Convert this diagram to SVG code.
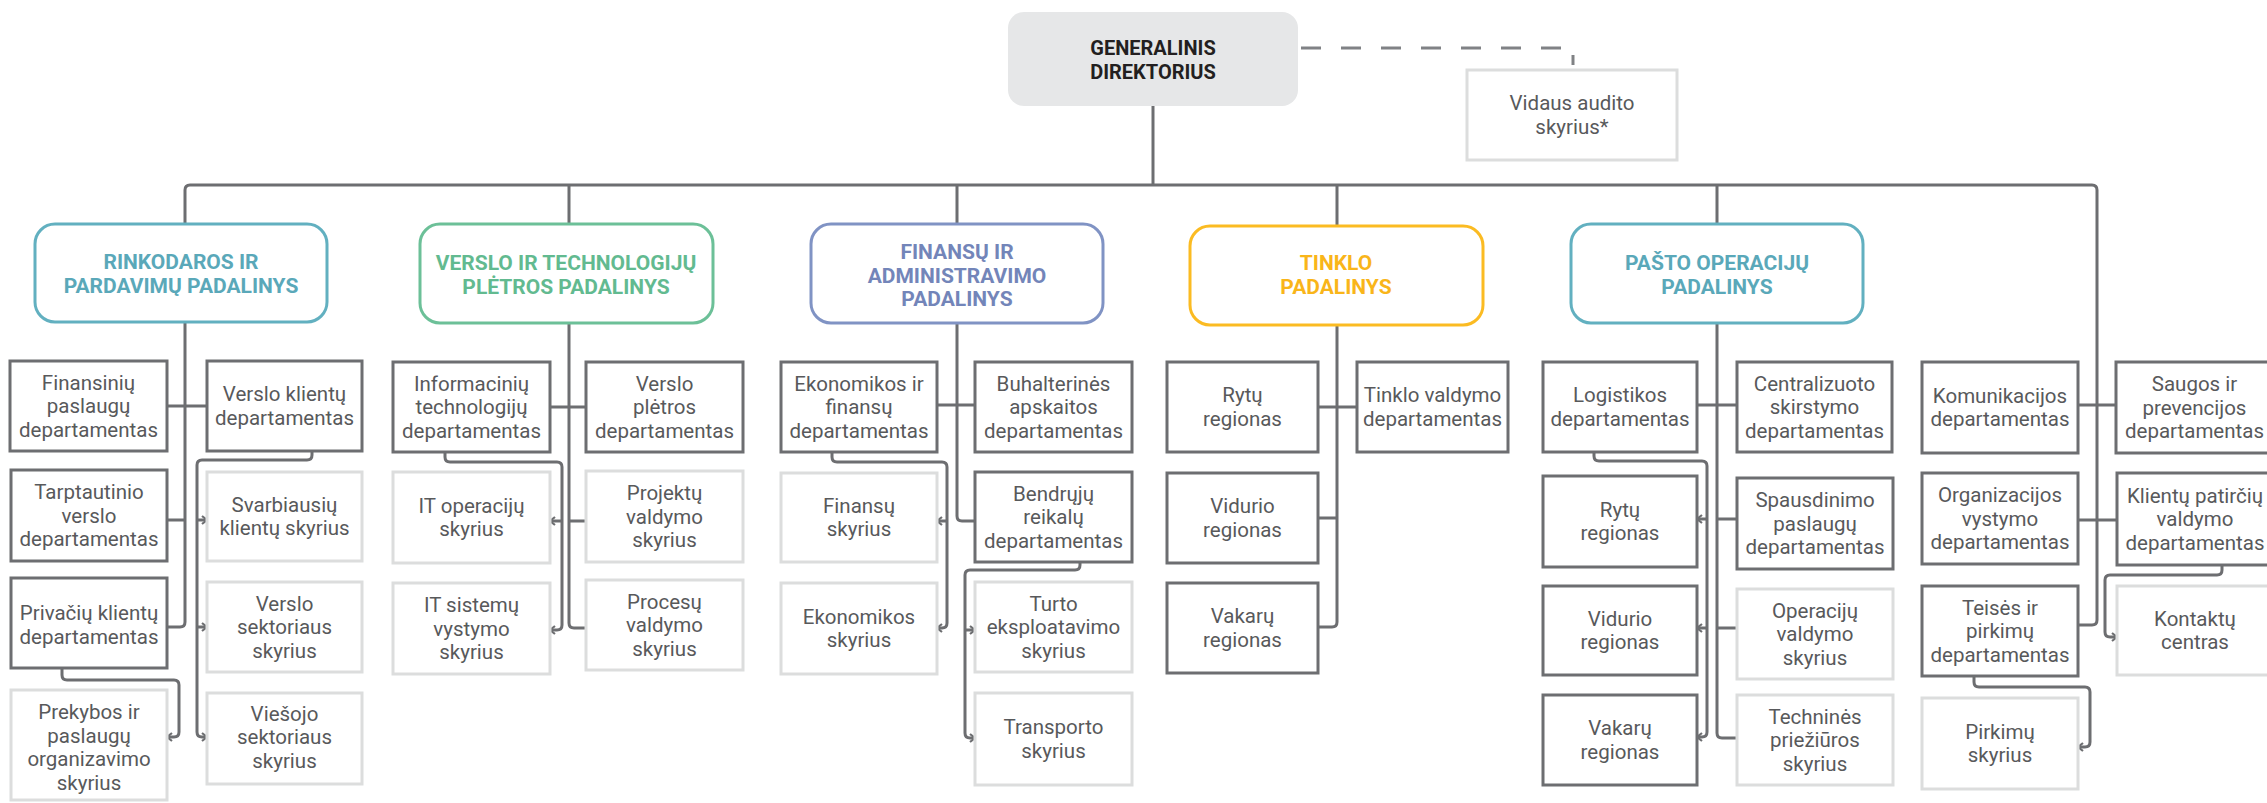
<svg xmlns="http://www.w3.org/2000/svg" width="2267" height="803" viewBox="0 0 2267 803">
<style>
.bg{fill:#ffffff}
.dk{fill:#fff;stroke:#6d6e71;stroke-width:3}
.lt{fill:#fff;stroke:#dcdddd;stroke-width:3}
.c{fill:none;stroke:#6d6e71;stroke-width:3;stroke-linejoin:round}
.t{font-family:Roboto,"Liberation Sans",sans-serif;font-size:20.5px;font-weight:400;fill:#58595b;text-anchor:middle}
.h{font-family:Roboto,"Liberation Sans",sans-serif;font-size:21px;font-weight:700;text-anchor:middle}
.hb{fill:#fff;stroke-width:3}
</style>
<defs>
<marker id="ar" markerUnits="userSpaceOnUse" markerWidth="10" markerHeight="12" refX="6" refY="5" orient="auto">
<path d="M1,1 L6,5 L1,9" fill="none" stroke="#6d6e71" stroke-width="2.2"/>
</marker>
</defs>
<rect class="bg" x="0" y="0" width="2267" height="803"/>

<g id="connectors">
<path class="c" d="M1153,106 V185"/>
<path class="c" d="M185,224 V190 Q185,185 190,185 H2092 Q2097,185 2097,190 V620 Q2097,625 2092,625 H2078"/>
<path class="c" d="M569,185 V224 M957,185 V224 M1337,185 V226 M1717,185 V224"/>
<path d="M1301,48 H1563" fill="none" stroke="#808285" stroke-width="3" stroke-dasharray="20 20"/>
<path d="M1573,55 V65" fill="none" stroke="#808285" stroke-width="3"/>
<!-- col1 -->
<path class="c" d="M185,322 V622 Q185,627 180,627 H167 M167,406 H207 M167,520 H185"/>
<path class="c" d="M312,451 V455 Q312,460 307,460 H202 Q197,460 197,465 V732 Q197,737 202,737 H207" marker-end="url(#ar)"/>
<path class="c" d="M197,520 H207" marker-end="url(#ar)"/>
<path class="c" d="M197,627 H207" marker-end="url(#ar)"/>
<path class="c" d="M62,668 V675 Q62,680 67,680 H174 Q179,680 179,685 V732 Q179,737 174,737 H167" marker-end="url(#ar)"/>
<!-- col2 -->
<path class="c" d="M569,323 V623 Q569,628 574,628 H586 M550,407 H586 M569,521 H586"/>
<path class="c" d="M445,452 V457 Q445,462 450,462 H557 Q562,462 562,467 V625 Q562,630 557,630 H550" marker-end="url(#ar)"/>
<path class="c" d="M562,521 H550" marker-end="url(#ar)"/>
<!-- col3 -->
<path class="c" d="M957,323 V516 Q957,521 962,521 H975 M937,405 H975"/>
<path class="c" d="M832,452 V457 Q832,462 837,462 H942 Q947,462 947,467 V623 Q947,628 942,628 H937" marker-end="url(#ar)"/>
<path class="c" d="M947,521 H937" marker-end="url(#ar)"/>
<path class="c" d="M1080,562 V565 Q1080,570 1075,570 H970 Q965,570 965,575 V733 Q965,738 970,738 H975" marker-end="url(#ar)"/>
<path class="c" d="M965,630 H975" marker-end="url(#ar)"/>
<!-- col4 -->
<path class="c" d="M1337,325 V622 Q1337,627 1332,627 H1318 M1318,407 H1357 M1337,518 H1318"/>
<!-- col5 -->
<path class="c" d="M1717,323 V733 Q1717,738 1722,738 H1737 M1697,405 H1737 M1717,519 H1737 M1717,628 H1737"/>
<path class="c" d="M1594,452 V456 Q1594,461 1599,461 H1702 Q1707,461 1707,466 V732 Q1707,737 1702,737 H1697" marker-end="url(#ar)"/>
<path class="c" d="M1707,519 H1697" marker-end="url(#ar)"/>
<path class="c" d="M1707,628 H1697" marker-end="url(#ar)"/>
<!-- col6 -->
<path class="c" d="M2078,405 H2116 M2078,520 H2117"/>
<path class="c" d="M1974,676 V682 Q1974,687 1979,687 H2085 Q2090,687 2090,692 V742 Q2090,747 2085,747 H2078" marker-end="url(#ar)"/>
<path class="c" d="M2222,565 V570 Q2222,575 2217,575 H2110 Q2105,575 2105,580 V632 Q2105,637 2110,637 H2117" marker-end="url(#ar)"/>
</g>

<g id="dg">
<rect x="1008" y="12" width="290" height="94" rx="16" fill="#e6e7e8"/>
<text class="h" x="1153" y="55" fill="#231f20" style="font-size:20px">GENERALINIS<tspan x="1153" dy="24">DIREKTORIUS</tspan></text>
</g>
<g id="vidaus-audito">
<rect class="lt" x="1467" y="70" width="210" height="90"/>
<text class="t" x="1572" y="110">Vidaus audito<tspan x="1572" dy="23.5">skyrius*</tspan></text>
</g>

<g id="h-rinkodaros">
<rect class="hb" x="35" y="224" width="292" height="98" rx="20" stroke="#62b0c0"/>
<text class="h" x="181" y="269" fill="#5aa8b9">RINKODAROS IR<tspan x="181" dy="23.5">PARDAVIMŲ PADALINYS</tspan></text>
</g>
<g id="h-verslo">
<rect class="hb" x="420" y="224" width="293" height="99" rx="20" stroke="#6cc098"/>
<text class="h" x="566" y="270" fill="#62ba90">VERSLO IR TECHNOLOGIJŲ<tspan x="566" dy="23.5">PLĖTROS PADALINYS</tspan></text>
</g>
<g id="h-finansu">
<rect class="hb" x="811" y="224" width="292" height="99" rx="20" stroke="#8093c4"/>
<text class="h" x="957" y="259" fill="#7385b9">FINANSŲ IR<tspan x="957" dy="23.5">ADMINISTRAVIMO</tspan><tspan x="957" dy="23.5">PADALINYS</tspan></text>
</g>
<g id="h-tinklo">
<rect class="hb" x="1190" y="226" width="293" height="99" rx="20" stroke="#fbbb22"/>
<text class="h" x="1336" y="270" fill="#f9b51a">TINKLO<tspan x="1336" dy="23.5">PADALINYS</tspan></text>
</g>
<g id="h-pasto">
<rect class="hb" x="1571" y="224" width="292" height="99" rx="20" stroke="#62b0c0"/>
<text class="h" x="1717" y="270" fill="#5aa8b9">PAŠTO OPERACIJŲ<tspan x="1717" dy="23.5">PADALINYS</tspan></text>
</g>

<!-- column 1 -->
<g id="a1"><rect class="dk" x="10" y="361" width="157" height="90"/>
<text class="t" x="88.5" y="389.5">Finansinių<tspan x="88.5" dy="23.5">paslaugų</tspan><tspan x="88.5" dy="23.5">departamentas</tspan></text></g>
<g id="a2"><rect class="dk" x="207" y="361" width="155" height="90"/>
<text class="t" x="284.5" y="401.25">Verslo klientų<tspan x="284.5" dy="23.5">departamentas</tspan></text></g>
<g id="a3"><rect class="dk" x="11" y="470" width="156" height="91"/>
<text class="t" x="89" y="499">Tarptautinio<tspan x="89" dy="23.5">verslo</tspan><tspan x="89" dy="23.5">departamentas</tspan></text></g>
<g id="a4"><rect class="dk" x="11" y="578" width="156" height="90"/>
<text class="t" x="89" y="620.25">Privačių klientų<tspan x="89" dy="23.5">departamentas</tspan></text></g>
<g id="a5"><rect class="lt" x="11" y="690" width="156" height="110"/>
<text class="t" x="89" y="719">Prekybos ir<tspan x="89" dy="23.5">paslaugų</tspan><tspan x="89" dy="23.5">organizavimo</tspan><tspan x="89" dy="23.5">skyrius</tspan></text></g>
<g id="a6"><rect class="lt" x="207" y="472" width="155" height="89"/>
<text class="t" x="284.5" y="511.75">Svarbiausių<tspan x="284.5" dy="23.5">klientų skyrius</tspan></text></g>
<g id="a7"><rect class="lt" x="207" y="582" width="155" height="90"/>
<text class="t" x="284.5" y="610.5">Verslo<tspan x="284.5" dy="23.5">sektoriaus</tspan><tspan x="284.5" dy="23.5">skyrius</tspan></text></g>
<g id="a8"><rect class="lt" x="207" y="693" width="155" height="91"/>
<text class="t" x="284.5" y="720.5">Viešojo<tspan x="284.5" dy="23.5">sektoriaus</tspan><tspan x="284.5" dy="23.5">skyrius</tspan></text></g>

<!-- column 2 -->
<g id="b1"><rect class="dk" x="393" y="362" width="157" height="90"/>
<text class="t" x="471.5" y="390.5">Informacinių<tspan x="471.5" dy="23.5">technologijų</tspan><tspan x="471.5" dy="23.5">departamentas</tspan></text></g>
<g id="b2"><rect class="dk" x="586" y="362" width="157" height="90"/>
<text class="t" x="664.5" y="390.5">Verslo<tspan x="664.5" dy="23.5">plėtros</tspan><tspan x="664.5" dy="23.5">departamentas</tspan></text></g>
<g id="b3"><rect class="lt" x="393" y="472" width="157" height="91"/>
<text class="t" x="471.5" y="512.75">IT operacijų<tspan x="471.5" dy="23.5">skyrius</tspan></text></g>
<g id="b4"><rect class="lt" x="393" y="583" width="157" height="91"/>
<text class="t" x="471.5" y="612">IT sistemų<tspan x="471.5" dy="23.5">vystymo</tspan><tspan x="471.5" dy="23.5">skyrius</tspan></text></g>
<g id="b5"><rect class="lt" x="586" y="471" width="157" height="91"/>
<text class="t" x="664.5" y="500">Projektų<tspan x="664.5" dy="23.5">valdymo</tspan><tspan x="664.5" dy="23.5">skyrius</tspan></text></g>
<g id="b6"><rect class="lt" x="586" y="580" width="157" height="90"/>
<text class="t" x="664.5" y="608.5">Procesų<tspan x="664.5" dy="23.5">valdymo</tspan><tspan x="664.5" dy="23.5">skyrius</tspan></text></g>

<!-- column 3 -->
<g id="c1"><rect class="dk" x="781" y="362" width="156" height="90"/>
<text class="t" x="859" y="390.5">Ekonomikos ir<tspan x="859" dy="23.5">finansų</tspan><tspan x="859" dy="23.5">departamentas</tspan></text></g>
<g id="c2"><rect class="dk" x="975" y="362" width="157" height="90"/>
<text class="t" x="1053.5" y="390.5">Buhalterinės<tspan x="1053.5" dy="23.5">apskaitos</tspan><tspan x="1053.5" dy="23.5">departamentas</tspan></text></g>
<g id="c3"><rect class="dk" x="975" y="472" width="157" height="90"/>
<text class="t" x="1053.5" y="500.5">Bendrųjų<tspan x="1053.5" dy="23.5">reikalų</tspan><tspan x="1053.5" dy="23.5">departamentas</tspan></text></g>
<g id="c4"><rect class="lt" x="781" y="473" width="156" height="89"/>
<text class="t" x="859" y="512.75">Finansų<tspan x="859" dy="23.5">skyrius</tspan></text></g>
<g id="c5"><rect class="lt" x="781" y="583" width="156" height="91"/>
<text class="t" x="859" y="623.75">Ekonomikos<tspan x="859" dy="23.5">skyrius</tspan></text></g>
<g id="c6"><rect class="lt" x="975" y="582" width="157" height="90"/>
<text class="t" x="1053.5" y="610.5">Turto<tspan x="1053.5" dy="23.5">eksploatavimo</tspan><tspan x="1053.5" dy="23.5">skyrius</tspan></text></g>
<g id="c7"><rect class="lt" x="975" y="693" width="157" height="92"/>
<text class="t" x="1053.5" y="734.25">Transporto<tspan x="1053.5" dy="23.5">skyrius</tspan></text></g>

<!-- column 4 -->
<g id="d1"><rect class="dk" x="1167" y="362" width="151" height="90"/>
<text class="t" x="1242.5" y="402.25">Rytų<tspan x="1242.5" dy="23.5">regionas</tspan></text></g>
<g id="d2"><rect class="dk" x="1357" y="362" width="151" height="90"/>
<text class="t" x="1432.5" y="402.25">Tinklo valdymo<tspan x="1432.5" dy="23.5">departamentas</tspan></text></g>
<g id="d3"><rect class="dk" x="1167" y="473" width="151" height="90"/>
<text class="t" x="1242.5" y="513.25">Vidurio<tspan x="1242.5" dy="23.5">regionas</tspan></text></g>
<g id="d4"><rect class="dk" x="1167" y="583" width="151" height="90"/>
<text class="t" x="1242.5" y="623.25">Vakarų<tspan x="1242.5" dy="23.5">regionas</tspan></text></g>

<!-- column 5 -->
<g id="e1"><rect class="dk" x="1543" y="362" width="154" height="90"/>
<text class="t" x="1620" y="402.25">Logistikos<tspan x="1620" dy="23.5">departamentas</tspan></text></g>
<g id="e2"><rect class="dk" x="1737" y="362" width="155" height="90"/>
<text class="t" x="1814.5" y="390.5">Centralizuoto<tspan x="1814.5" dy="23.5">skirstymo</tspan><tspan x="1814.5" dy="23.5">departamentas</tspan></text></g>
<g id="e3"><rect class="dk" x="1543" y="476" width="154" height="91"/>
<text class="t" x="1620" y="516.75">Rytų<tspan x="1620" dy="23.5">regionas</tspan></text></g>
<g id="e4"><rect class="dk" x="1543" y="586" width="154" height="89"/>
<text class="t" x="1620" y="625.75">Vidurio<tspan x="1620" dy="23.5">regionas</tspan></text></g>
<g id="e5"><rect class="dk" x="1543" y="695" width="154" height="90"/>
<text class="t" x="1620" y="735.25">Vakarų<tspan x="1620" dy="23.5">regionas</tspan></text></g>
<g id="e6"><rect class="dk" x="1737" y="478" width="156" height="91"/>
<text class="t" x="1815" y="507">Spausdinimo<tspan x="1815" dy="23.5">paslaugų</tspan><tspan x="1815" dy="23.5">departamentas</tspan></text></g>
<g id="e7"><rect class="lt" x="1737" y="589" width="156" height="90"/>
<text class="t" x="1815" y="617.5">Operacijų<tspan x="1815" dy="23.5">valdymo</tspan><tspan x="1815" dy="23.5">skyrius</tspan></text></g>
<g id="e8"><rect class="lt" x="1737" y="695" width="156" height="90"/>
<text class="t" x="1815" y="723.5">Techninės<tspan x="1815" dy="23.5">priežiūros</tspan><tspan x="1815" dy="23.5">skyrius</tspan></text></g>

<!-- column 6 -->
<g id="f1"><rect class="dk" x="1922" y="362" width="156" height="91"/>
<text class="t" x="2000" y="402.75">Komunikacijos<tspan x="2000" dy="23.5">departamentas</tspan></text></g>
<g id="f2"><rect class="dk" x="2116" y="362" width="157" height="91"/>
<text class="t" x="2194.5" y="391">Saugos ir<tspan x="2194.5" dy="23.5">prevencijos</tspan><tspan x="2194.5" dy="23.5">departamentas</tspan></text></g>
<g id="f3"><rect class="dk" x="1922" y="473" width="156" height="91"/>
<text class="t" x="2000" y="502">Organizacijos<tspan x="2000" dy="23.5">vystymo</tspan><tspan x="2000" dy="23.5">departamentas</tspan></text></g>
<g id="f4"><rect class="dk" x="2117" y="473" width="157" height="92"/>
<text class="t" x="2195" y="502.5">Klientų patirčių<tspan x="2195" dy="23.5">valdymo</tspan><tspan x="2195" dy="23.5">departamentas</tspan></text></g>
<g id="f5"><rect class="dk" x="1922" y="586" width="156" height="90"/>
<text class="t" x="2000" y="614.5">Teisės ir<tspan x="2000" dy="23.5">pirkimų</tspan><tspan x="2000" dy="23.5">departamentas</tspan></text></g>
<g id="f6"><rect class="lt" x="2117" y="586" width="157" height="89"/>
<text class="t" x="2195" y="625.75">Kontaktų<tspan x="2195" dy="23.5">centras</tspan></text></g>
<g id="f7"><rect class="lt" x="1922" y="698" width="156" height="91"/>
<text class="t" x="2000" y="738.75">Pirkimų<tspan x="2000" dy="23.5">skyrius</tspan></text></g>
</svg>
